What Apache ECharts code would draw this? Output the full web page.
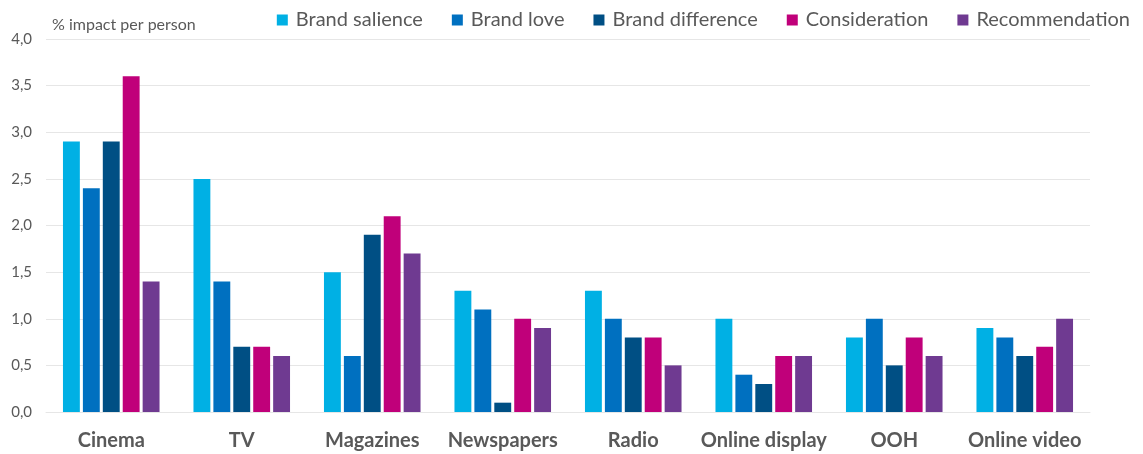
<!DOCTYPE html>
<html><head><meta charset="utf-8">
<script src="https://cdn.jsdelivr.net/npm/echarts@6/dist/echarts.min.js"></script>
<style>html,body{margin:0;padding:0;background:#fff}#c{width:1143px;height:454px}</style>
</head><body><div id="c"></div>
<script>
const categories = ['Cinema','TV','Magazines','Newspapers','Radio','Online display','OOH','Online video'];
const seriesNames = ['Brand salience','Brand love','Brand difference','Consideration','Recommendation'];
const brandSalience   = [2.9, 2.5, 1.5, 1.3, 1.3, 1.0, 0.8, 0.9];
const brandLove       = [2.4, 1.4, 0.6, 1.1, 1.0, 0.4, 1.0, 0.8];
const brandDifference = [2.9, 0.7, 1.9, 0.1, 0.8, 0.3, 0.5, 0.6];
const consideration   = [3.6, 0.7, 2.1, 1.0, 0.8, 0.6, 0.8, 0.7];
const recommendation  = [1.4, 0.6, 1.7, 0.9, 0.5, 0.6, 0.6, 1.0];
const colors = ['#00B0E4','#0070C0','#004F84','#C0007A','#6F3A91'];
const values = [brandSalience, brandLove, brandDifference, consideration, recommendation];

const chart = echarts.init(document.getElementById('c'), null, {renderer:'canvas'});
chart.setOption({
  animation:false,
  textStyle:{fontFamily:'Lato'},
  title:{text:'% impact per person', left:47, top:12, textStyle:{fontSize:16, fontWeight:'normal', color:'#595959', fontFamily:'Lato'}},
  legend:{right:8, top:5, itemWidth:11, itemHeight:11, itemGap:29, icon:'rect',
    textStyle:{fontSize:20, color:'#595959', fontFamily:'Lato', padding:[0,0,0,3]},
    data:seriesNames},
  grid:{left:46, right:53, top:39, bottom:42, containLabel:false},
  xAxis:{type:'category', data:categories,
    axisLine:{show:true, lineStyle:{color:'#E6E6E6', width:1}}, axisTick:{show:false},
    axisLabel:{interval:0, fontSize:20, fontWeight:'bold', color:'#595959', margin:19, fontFamily:'Lato'}},
  yAxis:{type:'value', min:0, max:4, interval:0.5,
    axisLine:{show:false}, axisTick:{show:false},
    splitLine:{lineStyle:{color:'#E6E6E6', width:1}},
    axisLabel:{fontSize:15, color:'#595959', margin:14, fontFamily:'Lato',
      formatter:v=>v.toFixed(1).replace('.',','), align:'right'}},
  series: seriesNames.map((n,i)=>({name:n, type:'bar', data:values[i],
    itemStyle:{color:colors[i]}, barGap:'18%', barCategoryGap:'26%'}))
});
</script></body></html>
